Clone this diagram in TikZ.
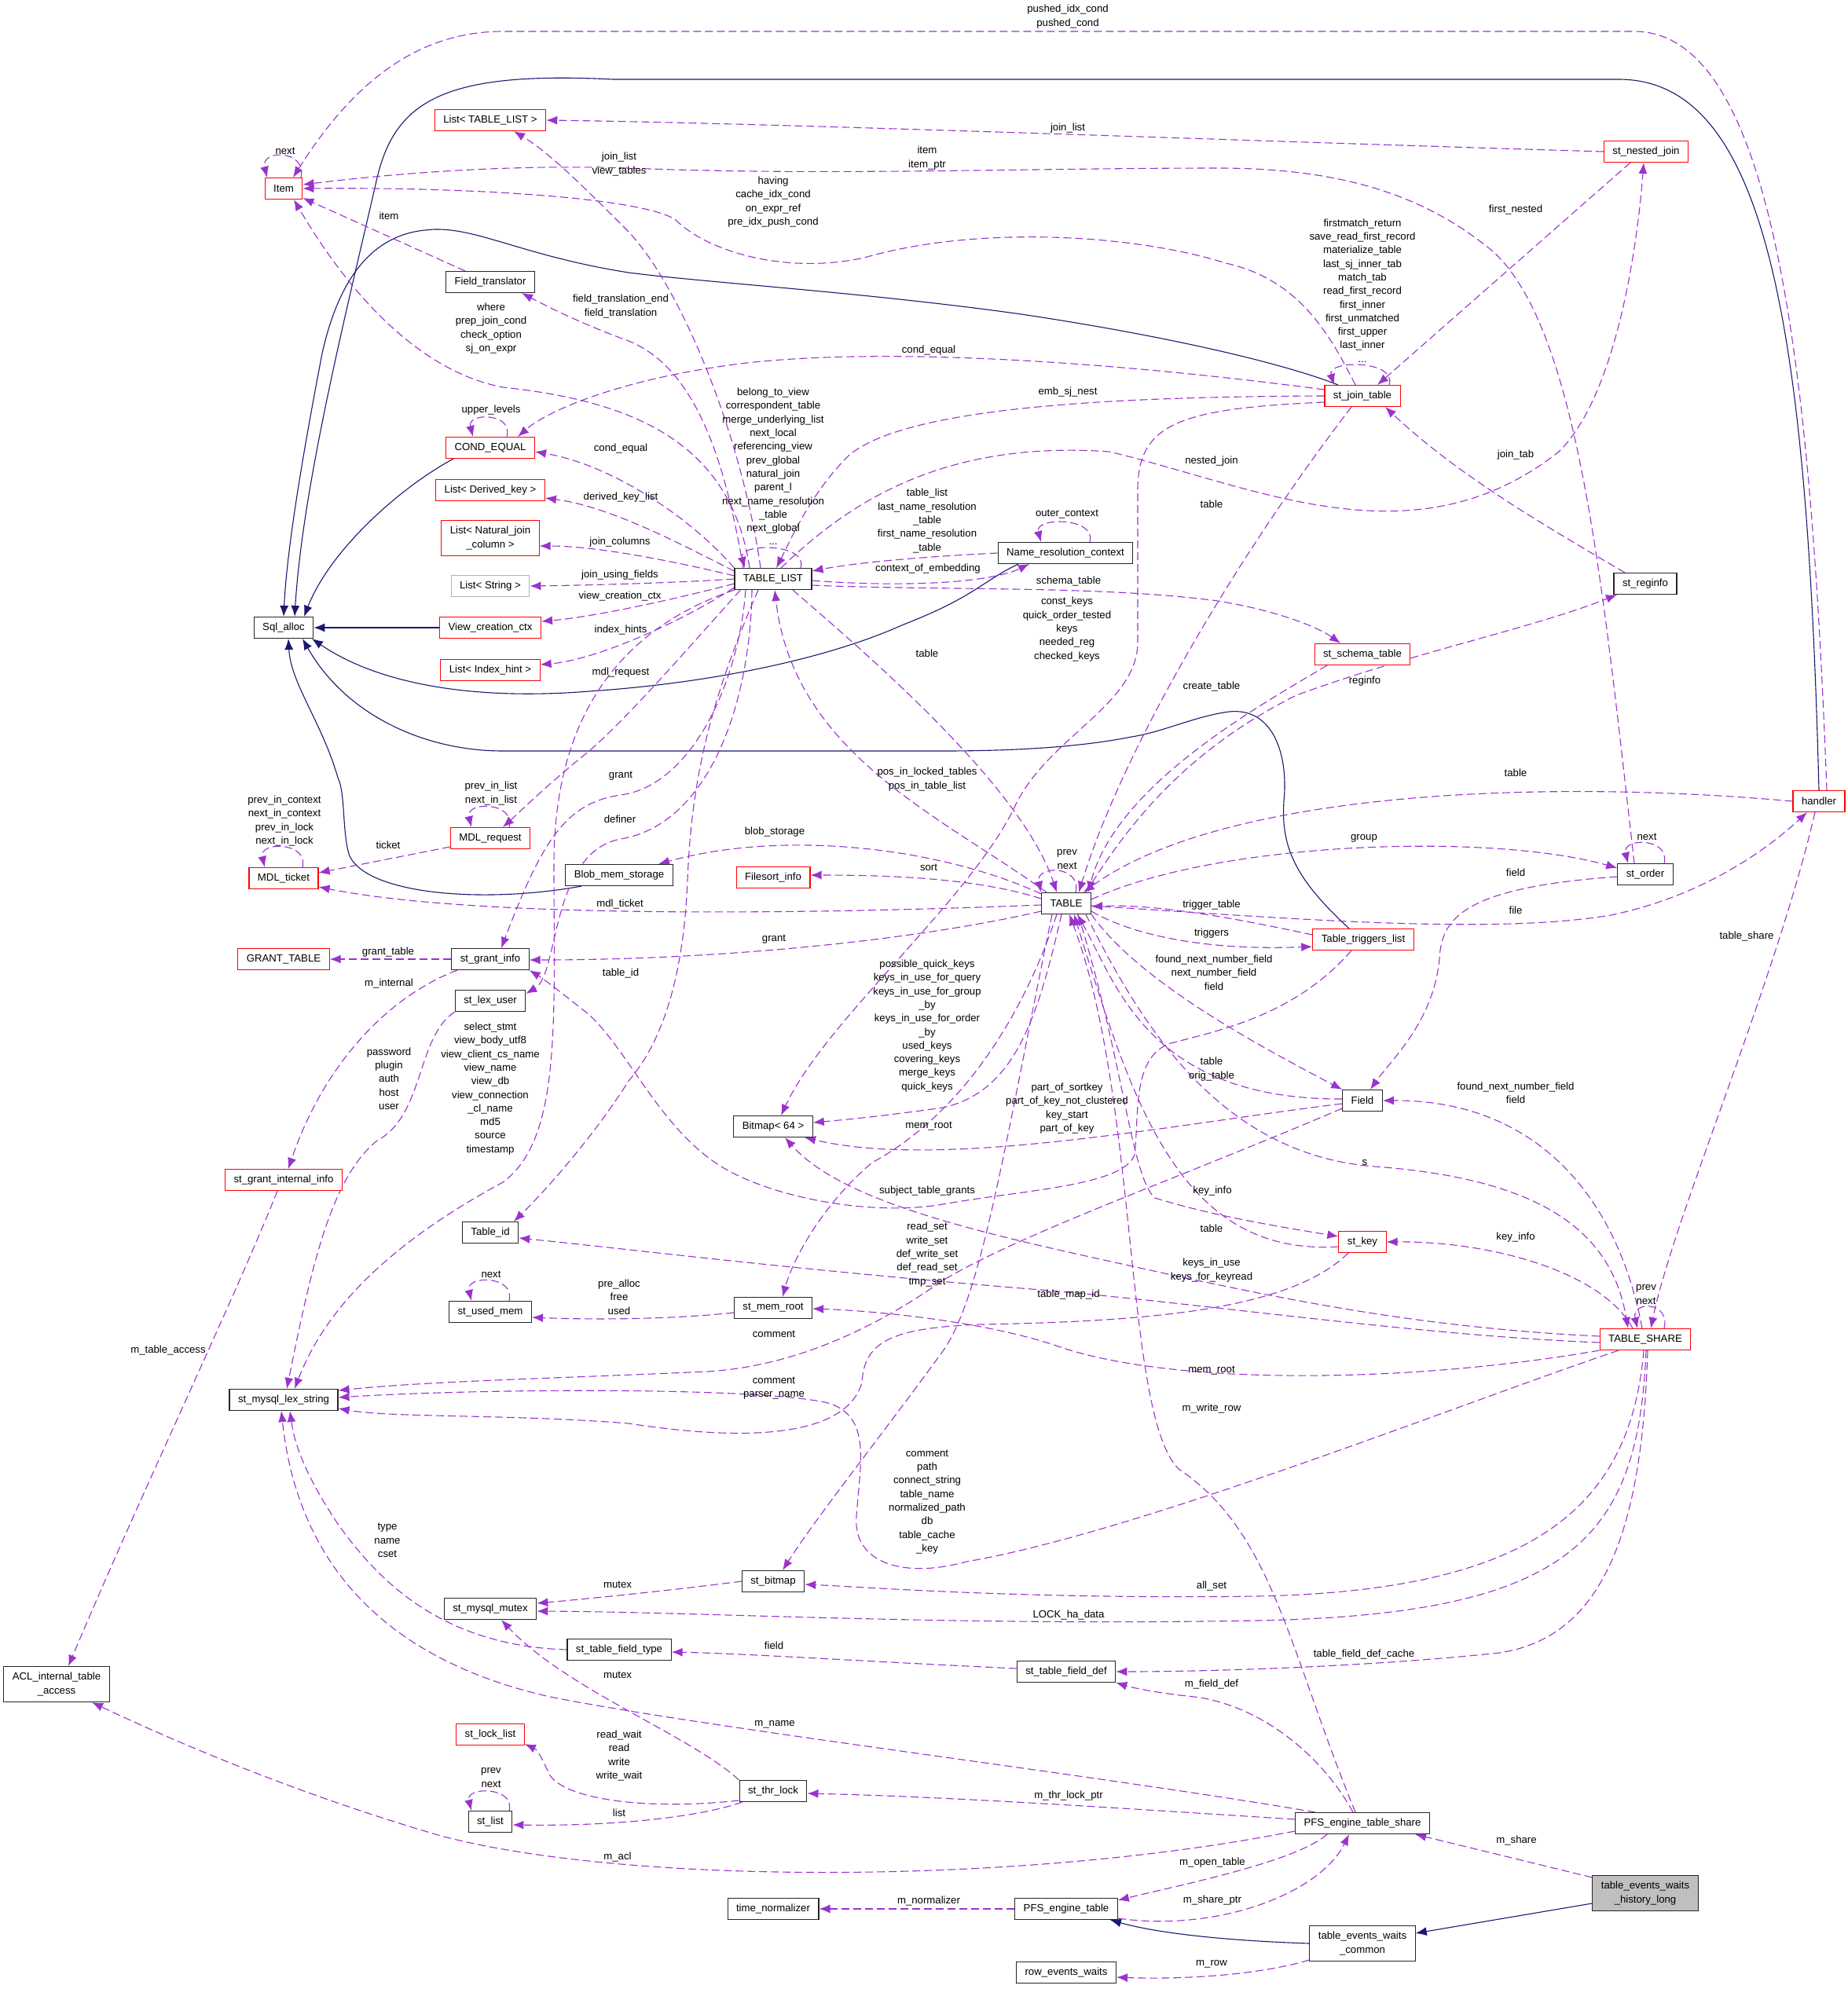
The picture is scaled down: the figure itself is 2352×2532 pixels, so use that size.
\documentclass[tikz,border=0pt]{standalone}
\usepackage{fontspec}
\setmainfont{Liberation Sans}
\usetikzlibrary{arrows.meta,calc}
\definecolor{depc}{HTML}{9A32CD}
\definecolor{inhc}{HTML}{191970}
\newcommand{\dxf}{\fontsize{13.2pt}{17.3pt}\selectfont}
\pgfdeclarelayer{bgl}
\pgfdeclarelayer{edges}
\pgfsetlayers{bgl,edges,main}
\tikzset{
 cls/.style={draw=black!85, fill=white, line width=1.1pt, inner xsep=11pt, inner ysep=3pt, minimum height=27pt, font=\dxf, align=center},
 clsr/.style={cls, draw=red},
 clsg/.style={cls, draw=black!30},
 clsf/.style={cls, fill=black!25},
 two/.style={minimum height=45pt},
 lbl/.style={font=\dxf, align=center, inner sep=0pt},
 dep/.style={draw=depc, line width=1.1pt, dash pattern=on 10pt off 5pt, -{Latex[length=14pt,width=11pt]}},
 inh/.style={draw=inhc, line width=1.1pt, -{Latex[length=14pt,width=11pt]}}
}
\begin{document}
\begin{tikzpicture}[x=1pt,y=-1pt]
\begin{pgfonlayer}{bgl}
\fill[white] (0,0) rectangle (2352,2532);
\end{pgfonlayer}
\useasboundingbox (0,0) rectangle (2352,2532);
% ---------------- nodes
\node[clsr] (Item) at (361,240) {Item};
\node[clsr] (listTL) at (624,153) {List< TABLE\_LIST >};
\node[cls] (fieldtr) at (624,359) {Field\_translator};
\node[clsr] (condeq) at (624,570) {COND\_EQUAL};
\node[clsr] (listDK) at (624,624) {List< Derived\_key >};
\node[clsr, two] (listNJ) at (624,685) {List< Natural\_join\\\_column >};
\node[clsg] (listStr) at (624,746) {List< String >};
\node[clsr] (viewctx) at (624,799) {View\_creation\_ctx};
\node[cls] (sqlalloc) at (361,799) {Sql\_alloc};
\node[clsr] (listIH) at (624,853) {List< Index\_hint >};
\node[cls] (tablelist) at (984,737) {TABLE\_LIST};
\node[cls] (nrc) at (1356,704) {Name\_resolution\_context};
\node[clsr] (nested) at (2095,193) {st\_nested\_join};
\node[clsr] (jointab) at (1734,504) {st\_join\_table};
\node[cls] (reginfo) at (2094,743) {st\_reginfo};
\node[clsr] (schema) at (1734,833) {st\_schema\_table};
\node[clsr] (mdlreq) at (624,1067) {MDL\_request};
\node[clsr] (mdlticket) at (361,1118) {MDL\_ticket};
\node[cls] (blob) at (788,1114) {Blob\_mem\_storage};
\node[clsr] (granttable) at (361,1221) {GRANT\_TABLE};
\node[cls] (grantinfo) at (624,1221) {st\_grant\_info};
\node[cls] (lexuser) at (624,1274) {st\_lex\_user};
\node[clsr] (grantint) at (361,1502) {st\_grant\_internal\_info};
\node[cls] (tableid) at (624,1569) {Table\_id};
\node[cls] (usedmem) at (624,1670) {st\_used\_mem};
\node[clsr] (filesort) at (984,1117) {Filesort\_info};
\node[cls] (table) at (1357,1150) {TABLE};
\node[cls] (bitmap64) at (984,1434) {Bitmap< 64 >};
\node[cls] (memroot) at (984,1665) {st\_mem\_root};
\node[clsr] (handler) at (2315,1020) {handler};
\node[cls] (order) at (2094,1113) {st\_order};
\node[clsr] (triggers) at (1735,1196) {Table\_triggers\_list};
\node[cls] (field) at (1734,1401) {Field};
\node[clsr] (key) at (1734,1581) {st\_key};
\node[clsr] (share) at (2094,1705) {TABLE\_SHARE};
\node[cls] (lexstr) at (361,1782) {st\_mysql\_lex\_string};
\node[cls, two] (acl) at (72,2144) {ACL\_internal\_table\\\_access};
\node[cls] (mutex) at (624,2048) {st\_mysql\_mutex};
\node[cls] (fieldtype) at (788,2100) {st\_table\_field\_type};
\node[clsr] (locklist) at (624,2208) {st\_lock\_list};
\node[cls] (stlist) at (624,2319) {st\_list};
\node[cls] (bitmap) at (984,2013) {st\_bitmap};
\node[cls] (fielddef) at (1357,2128) {st\_table\_field\_def};
\node[cls] (thrlock) at (984,2280) {st\_thr\_lock};
\node[cls] (timenorm) at (984,2430) {time\_normalizer};
\node[cls] (pfstable) at (1357,2430) {PFS\_engine\_table};
\node[cls] (rowev) at (1357,2511) {row\_events\_waits};
\node[cls] (pfsshare) at (1734,2321) {PFS\_engine\_table\_share};
\node[clsf, two] (hist) at (2094,2410) {table\_events\_waits\\\_history\_long};
\node[cls, two] (common) at (1734,2474) {table\_events\_waits\\\_common};

\begin{pgfonlayer}{edges}
% ---------------- inheritance
\draw[inh] (handler.north) .. controls (2300,420) and (2250,101) .. (2060,101) -- (780,101) .. controls (560,90) and (500,130) .. (478,235) .. controls (440,400) and (385,620) .. ($(sqlalloc.north)+(14,0)$);
\draw[inh] ($(jointab.north)+(-31,0)$) .. controls (1640,465) and (1500,430) .. (1300,400) .. controls (1100,372) and (900,360) .. (800,347) .. controls (660,325) and (600,285) .. (541,293) .. controls (470,300) and (430,360) .. (410,450) .. controls (385,580) and (365,700) .. ($(sqlalloc.north)+(0,0)$);
\draw[inh] ($(condeq.south)+(-47,0)$) .. controls (510,620) and (420,700) .. ($(sqlalloc.north)+(26,0)$);
\draw[inh] (viewctx.west) -- (sqlalloc.east);
\draw[inh] ($(blob.south)+(-48,0)$) .. controls (620,1150) and (470,1140) .. (445,1090) .. controls (435,1060) and (440,1010) .. (430,990) .. controls (410,920) and (370,870) .. ($(sqlalloc.south)+(6,0)$);
\draw[inh] ($(triggers.north)+(-18,0)$) .. controls (1650,1120) and (1630,1080) .. (1634,1020) .. controls (1640,960) and (1620,900) .. (1564,906) .. controls (1520,912) and (1480,932) .. (1440,938) .. controls (1380,950) and (1300,956) .. (1200,956) -- (640,956) .. controls (540,956) and (440,910) .. ($(sqlalloc.south)+(24,0)$);
\draw[inh] ($(nrc.south)+(-60,0)$) .. controls (1250,740) and (1240,760) .. (1150,795) .. controls (1050,840) and (900,870) .. (750,880) .. controls (600,892) and (480,870) .. ($(sqlalloc.south)+(36,0)$);
\draw[inh] ($(hist.west)+(0,13)$) -- ($(common.east)+(0,-13)$);
\draw[inh] (common.west) .. controls (1550,2470) and (1470,2460) .. ($(pfstable.south east)+(-10,0)$);

% ---------------- dependencies
% Item
\draw[dep] ($(Item.north)+(22,0)$) .. controls ($(Item.north)+(30,-36)$) and ($(Item.north)+(-30,-36)$) .. ($(Item.north)+(-21,0)$);
\draw[dep] ($(handler.north)+(10,0)$) .. controls (2305,480) and (2260,40) .. (2080,40) -- (640,40) .. controls (520,40) and (440,120) .. ($(Item.north)+(12,0)$);
\draw[dep] ($(order.north)+(-14,0)$) .. controls (2040,750) and (2010,420) .. (1900,320) .. controls (1810,245) and (1700,214) .. (1550,214) .. controls (1300,214) and (1050,224) .. (800,214) .. controls (620,208) and (460,226) .. ($(Item.east)+(0,-5)$);
\draw[dep] ($(jointab.north)+(-9,0)$) .. controls (1690,420) and (1650,355) .. (1560,335) .. controls (1450,300) and (1250,285) .. (1100,328) .. controls (1000,350) and (900,320) .. (860,280) .. controls (820,252) and (600,238) .. ($(Item.east)+(0,0)$);
\draw[dep] ($(tablelist.north)+(-30,0)$) .. controls (930,560) and (800,510) .. (640,493) .. controls (520,470) and (430,350) .. ($(Item.south)+(13,0)$);
\draw[dep] ($(fieldtr.north)+(-32,0)$) -- ($(Item.east)+(0,12)$);
% List<TABLE_LIST>
\draw[dep] (nested.west) .. controls (1600,180) and (1000,157) .. (listTL.east);
\draw[dep] ($(tablelist.north)+(-16,0)$) .. controls (945,560) and (870,370) .. (800,295) .. controls (740,235) and (700,195) .. ($(listTL.south)+(30,0)$);
\draw[dep] ($(tablelist.north)+(-38,0)$) .. controls (925,600) and (890,470) .. (800,434) .. controls (740,412) and (700,392) .. ($(fieldtr.south)+(40,0)$);
% COND_EQUAL
\draw[dep] ($(condeq.north)+(21,0)$) .. controls ($(condeq.north)+(30,-31)$) and ($(condeq.north)+(-30,-31)$) .. ($(condeq.north)+(-22,0)$);
\draw[dep] (tablelist.north west) .. controls (880,660) and (780,592) .. ($(condeq.east)+(0,5)$);
\draw[dep] ($(jointab.west)+(0,-8)$) .. controls (1450,465) and (1150,440) .. (950,462) .. controls (800,480) and (700,520) .. ($(condeq.north)+(35,0)$);
% TABLE_LIST left side
\draw[dep] ($(tablelist.north west)+(0,4)$) .. controls (880,700) and (780,645) .. ($(listDK.east)+(0,10)$);
\draw[dep] ($(tablelist.west)+(0,-4)$) .. controls (860,715) and (760,695) .. ($(listNJ.east)+(0,10)$);
\draw[dep] (tablelist.west) .. controls (860,742) and (750,745) .. (listStr.east);
\draw[dep] ($(tablelist.west)+(0,6)$) .. controls (870,760) and (760,785) .. ($(viewctx.east)+(0,-8)$);
\draw[dep] ($(tablelist.south west)+(0,-3)$) .. controls (870,790) and (760,840) .. ($(listIH.east)+(0,-7)$);
\draw[dep] ($(tablelist.south west)+(8,0)$) .. controls (880,820) and (790,925) .. (740,964) .. controls (690,1005) and (660,1035) .. ($(mdlreq.north)+(16,0)$);
\draw[dep] ($(tablelist.south)+(-35,0)$) .. controls (940,870) and (880,1000) .. (790,1012) .. controls (720,1022) and (690,1070) .. ($(grantinfo.north)+(14,0)$);
\draw[dep] ($(tablelist.south)+(-27,0)$) .. controls (955,900) and (900,1050) .. (790,1068) .. controls (700,1085) and (712,1240) .. ($(lexuser.north east)+(0,5)$);
\draw[dep] ($(tablelist.south)+(-19,0)$) .. controls (900,900) and (880,1000) .. (875,1120) .. controls (870,1250) and (840,1330) .. (800,1376) .. controls (760,1440) and (700,1510) .. ($(tableid.north)+(30,0)$);
\draw[dep] (tablelist.south west) .. controls (820,790) and (705,880) .. (705,1100) .. controls (705,1300) and (715,1450) .. (640,1505) .. controls (520,1570) and (420,1650) .. ($(lexstr.north)+(14,0)$);
% TABLE_LIST self / NRC
\draw[dep] ($(tablelist.north)+(35,0)$) .. controls ($(tablelist.north)+(45,-32)$) and ($(tablelist.north)+(-45,-32)$) .. ($(tablelist.north)+(-36,0)$);
\draw[dep] (nrc.west) .. controls (1150,710) and (1080,718) .. ($(tablelist.east)+(0,-10)$);
\draw[dep] ($(tablelist.east)+(0,2)$) .. controls (1150,748) and (1260,742) .. ($(nrc.south)+(-46,0)$);
\draw[dep] ($(nrc.north)+(31,0)$) .. controls ($(nrc.north)+(40,-32)$) and ($(nrc.north)+(-40,-32)$) .. ($(nrc.north)+(-31,0)$);
\draw[dep] ($(tablelist.east)+(0,8)$) .. controls (1200,752) and (1400,745) .. (1550,765) .. controls (1630,778) and (1680,800) .. ($(schema.north)+(-28,0)$);
% st_join_table / st_nested_join
\draw[dep] ($(nested.south)+(-20,0)$) -- ($(jointab.north)+(19,0)$);
\draw[dep] ($(tablelist.north)+(10,0)$) .. controls (1080,640) and (1200,560) .. (1412,575) .. controls (1600,620) and (1800,720) .. (1984,575) .. controls (2060,500) and (2085,300) .. ($(nested.south)+(-3,0)$);
\draw[dep] (jointab.west) .. controls (1400,505) and (1150,520) .. (1080,580) .. controls (1030,630) and (1005,690) .. ($(tablelist.north)+(4,0)$);
\draw[dep] ($(jointab.north)+(34,0)$) .. controls ($(jointab.north)+(44,-32)$) and ($(jointab.north)+(-46,-32)$) .. ($(jointab.north)+(-36,0)$);
\draw[dep] ($(reginfo.north)+(-26,0)$) .. controls (1950,660) and (1850,600) .. ($(jointab.south)+(29,0)$);
\draw[dep] ($(table.north)+(25,0)$) .. controls (1430,1060) and (1500,960) .. (1650,885) .. controls (1800,830) and (1950,800) .. ($(reginfo.south)+(-36,0)$);
\draw[dep] ($(jointab.south)+(-14,0)$) .. controls (1580,700) and (1430,950) .. ($(table.north)+(16,0)$);
\draw[dep] ($(jointab.west)+(0,8)$) .. controls (1500,520) and (1450,540) .. (1448,620) -- (1448,820) .. controls (1445,900) and (1330,940) .. (1290,1030) .. controls (1230,1150) and (1050,1300) .. ($(bitmap64.north)+(10,0)$);
% TABLE top
\draw[dep] ($(tablelist.south)+(25,0)$) .. controls (1100,830) and (1300,1000) .. ($(table.north)+(-12,0)$);
\draw[dep] ($(table.north)+(-25,0)$) .. controls (1200,1040) and (1010,960) .. ($(tablelist.south)+(2,0)$);
\draw[dep] ($(table.north)+(12,0)$) .. controls ($(table.north)+(20,-35)$) and ($(table.north)+(-40,-35)$) .. ($(table.north)+(-32,0)$);
\draw[dep] ($(schema.south)+(-45,0)$) .. controls (1600,900) and (1420,1000) .. ($(table.north)+(28,0)$);
\draw[dep] (handler.west) .. controls (1950,990) and (1550,1010) .. ($(table.north)+(22,0)$);
% TABLE left
\draw[dep] ($(table.west)+(0,-6)$) .. controls (1250,1120) and (1150,1114) .. ($(filesort.east)+(0,-3)$);
\draw[dep] ($(table.north west)+(0,2)$) .. controls (1200,1080) and (1000,1055) .. ($(blob.north)+(50,0)$);
\draw[dep] ($(table.west)+(0,2)$) .. controls (1000,1165) and (600,1168) .. ($(mdlticket.east)+(0,11)$);
\draw[dep] ($(table.west)+(0,10)$) .. controls (1150,1200) and (900,1222) .. ($(grantinfo.east)+(0,1)$);
% MDL / grant
\draw[dep] ($(mdlreq.west)+(0,11)$) -- ($(mdlticket.east)+(0,-7)$);
\draw[dep] ($(mdlreq.north)+(24,0)$) .. controls ($(mdlreq.north)+(32,-33)$) and ($(mdlreq.north)+(-32,-33)$) .. ($(mdlreq.north)+(-24,0)$);
\draw[dep] ($(mdlticket.north)+(24,0)$) .. controls ($(mdlticket.north)+(32,-33)$) and ($(mdlticket.north)+(-32,-33)$) .. ($(mdlticket.north)+(-24,0)$);
\draw[dep] (grantinfo.west) -- (granttable.east);
\draw[dep] ($(grantinfo.south)+(-42,0)$) .. controls (490,1270) and (410,1360) .. ($(grantint.north)+(6,0)$);
\draw[dep] ($(grantint.south)+(-8,0)$) .. controls (300,1650) and (180,1900) .. ($(acl.north)+(15,0)$);
\draw[dep] (lexuser.south west) .. controls (530,1320) and (540,1420) .. (480,1452) .. controls (420,1500) and (395,1620) .. ($(lexstr.north)+(4,0)$);
% mem_root
\draw[dep] ($(memroot.west)+(0,6)$) .. controls (850,1680) and (750,1680) .. ($(usedmem.east)+(0,7)$);
\draw[dep] ($(usedmem.north)+(24,0)$) .. controls ($(usedmem.north)+(32,-33)$) and ($(usedmem.north)+(-32,-33)$) .. ($(usedmem.north)+(-24,0)$);
\draw[dep] ($(table.south)+(-12,0)$) .. controls (1300,1300) and (1220,1420) .. (1110,1480) .. controls (1050,1530) and (1010,1600) .. ($(memroot.north)+(12,0)$);
% Bitmap<64>
\draw[dep] ($(table.south)+(-6,0)$) .. controls (1320,1300) and (1290,1390) .. (1200,1410) .. controls (1130,1420) and (1080,1425) .. ($(bitmap64.east)+(0,-5)$);
\draw[dep] ($(field.west)+(0,4)$) .. controls (1500,1430) and (1200,1490) .. ($(bitmap64.south)+(40,0)$);
\draw[dep] ($(share.west)+(0,-4)$) .. controls (1800,1690) and (1620,1650) .. (1500,1625) .. controls (1300,1580) and (1080,1540) .. ($(bitmap64.south)+(15,0)$);
% TABLE_SHARE top
\draw[dep] ($(table.south)+(25,0)$) .. controls (1450,1300) and (1550,1470) .. (1750,1485) .. controls (1950,1500) and (2050,1560) .. ($(share.north)+(-22,0)$);
\draw[dep] ($(share.north)+(24,0)$) .. controls ($(share.north)+(32,-35)$) and ($(share.north)+(-18,-35)$) .. ($(share.north)+(-10,0)$);
\draw[dep] ($(handler.south)+(-5,0)$) .. controls (2260,1250) and (2130,1550) .. ($(share.north)+(7,0)$);
\draw[dep] ($(share.north)+(-4,0)$) .. controls (2060,1530) and (1960,1400) .. (field.east);
\draw[dep] ($(share.north)+(-16,0)$) .. controls (2040,1620) and (1900,1580) .. (key.east);
% st_key / Field / TABLE
\draw[dep] ($(table.south)+(15,0)$) .. controls (1430,1350) and (1440,1500) .. (1470,1525) .. controls (1550,1550) and (1650,1565) .. ($(key.west)+(0,-7)$);
\draw[dep] ($(key.west)+(0,6)$) .. controls (1500,1600) and (1440,1400) .. ($(table.south)+(10,0)$);
\draw[dep] ($(field.west)+(0,-2)$) .. controls (1460,1400) and (1420,1250) .. ($(table.south)+(14,0)$);
\draw[dep] (table.south east) .. controls (1450,1250) and (1600,1330) .. (field.north west);
\draw[dep] ($(order.west)+(0,3)$) .. controls (1860,1130) and (1835,1170) .. (1832,1220) .. controls (1825,1300) and (1770,1350) .. ($(field.north)+(10,0)$);
\draw[dep] ($(table.east)+(0,-5)$) .. controls (1550,1070) and (1900,1060) .. ($(order.west)+(0,-8)$);
\draw[dep] ($(order.north)+(24,0)$) .. controls ($(order.north)+(32,-33)$) and ($(order.north)+(-30,-33)$) .. ($(order.north)+(-22,0)$);
\draw[dep] ($(table.east)+(0,3)$) .. controls (1650,1170) and (1900,1190) .. (2050,1165) .. controls (2170,1140) and (2250,1080) .. ($(handler.south)+(-15,0)$);
\draw[dep] ($(triggers.west)+(0,-6)$) .. controls (1600,1175) and (1480,1150) .. ($(table.east)+(0,4)$);
\draw[dep] ($(table.south east)+(0,-4)$) .. controls (1450,1195) and (1550,1210) .. ($(triggers.west)+(0,9)$);
\draw[dep] ($(triggers.south)+(-15,0)$) .. controls (1650,1290) and (1560,1310) .. (1490,1328) .. controls (1440,1345) and (1450,1420) .. (1444,1470) .. controls (1430,1510) and (1300,1515) .. (1200,1533) .. controls (1100,1550) and (960,1520) .. (902,1474) .. controls (830,1420) and (790,1320) .. (740,1284) .. controls (710,1260) and (690,1245) .. (grantinfo.south east);
% st_bitmap, mutex
\draw[dep] ($(table.south)+(-18,0)$) .. controls (1280,1450) and (1250,1650) .. (1200,1720) .. controls (1120,1830) and (1040,1930) .. ($(bitmap.north)+(12,0)$);
\draw[dep] ($(share.south)+(-2,0)$) .. controls (2075,1920) and (1950,2025) .. (1600,2032) .. controls (1300,2036) and (1100,2020) .. ($(bitmap.east)+(0,4)$);
\draw[dep] ($(share.south)+(1,0)$) .. controls (2085,1960) and (2000,2055) .. (1600,2063) .. controls (1200,2070) and (900,2052) .. ($(mutex.east)+(0,3)$);
\draw[dep] (bitmap.west) .. controls (850,2025) and (750,2035) .. ($(mutex.east)+(0,-7)$);
\draw[dep] (thrlock.north west) .. controls (880,2210) and (720,2150) .. ($(mutex.south)+(14,0)$);
% field def
\draw[dep] ($(share.south)+(3,0)$) .. controls (2090,1950) and (2040,2090) .. (1900,2105) .. controls (1700,2125) and (1500,2128) .. (fielddef.east);
\draw[dep] ($(fielddef.west)+(0,-4)$) .. controls (1100,2115) and (950,2105) .. ($(fieldtype.east)+(0,3)$);
\draw[dep] (fieldtype.west) .. controls (560,2095) and (480,2010) .. (430,1940) .. controls (390,1880) and (375,1840) .. ($(lexstr.south)+(8,0)$);
% lex_string others
\draw[dep] ($(pfsshare.north west)+(26,0)$) .. controls (1400,2260) and (900,2200) .. (700,2160) .. controls (500,2115) and (380,2000) .. ($(lexstr.south)+(-3,0)$);
\draw[dep] ($(key.south)+(-18,0)$) .. controls (1640,1670) and (1450,1682) .. (1250,1686) .. controls (1130,1690) and (1100,1710) .. (1097,1760) .. controls (1080,1820) and (980,1840) .. (800,1812) .. controls (650,1800) and (500,1805) .. ($(lexstr.east)+(0,11)$);
\draw[dep] ($(share.south)+(-34,0)$) .. controls (1850,1790) and (1450,1950) .. (1230,1988) .. controls (1150,2010) and (1085,1990) .. (1090,1930) .. controls (1095,1860) and (1110,1800) .. (1050,1785) .. controls (950,1765) and (600,1768) .. ($(lexstr.east)+(0,-3)$);
\draw[dep] ($(field.west)+(0,10)$) .. controls (1500,1500) and (1300,1570) .. (1200,1630) .. controls (1100,1700) and (1000,1740) .. (900,1746) .. controls (700,1755) and (550,1758) .. ($(lexstr.east)+(0,-12)$);
% table_id, mem_root from share
\draw[dep] ($(share.west)+(0,4)$) .. controls (1800,1700) and (1500,1655) .. (1300,1640) .. controls (1000,1615) and (800,1590) .. ($(tableid.east)+(0,7)$);
\draw[dep] (share.south west) .. controls (1800,1760) and (1500,1765) .. (1350,1715) .. controls (1250,1680) and (1100,1668) .. ($(memroot.east)+(0,1)$);
% PFS
\draw[dep] ($(pfsshare.north)+(-9,0)$) .. controls (1640,2100) and (1620,1950) .. (1500,1870) .. controls (1430,1800) and (1450,1400) .. ($(table.south)+(4,0)$);
\draw[dep] ($(pfsshare.west)+(0,-5)$) .. controls (1400,2300) and (1200,2287) .. ($(thrlock.east)+(0,3)$);
\draw[dep] ($(thrlock.west)+(0,12)$) .. controls (820,2305) and (720,2290) .. (700,2260) .. controls (690,2240) and (685,2228) .. ($(locklist.east)+(0,12)$);
\draw[dep] ($(thrlock.south west)+(4,0)$) .. controls (900,2310) and (800,2325) .. ($(stlist.east)+(0,4)$);
\draw[dep] ($(stlist.north)+(24,0)$) .. controls ($(stlist.north)+(32,-31)$) and ($(stlist.north)+(-32,-31)$) .. ($(stlist.north)+(-24,0)$);
\draw[dep] ($(pfsshare.west)+(0,10)$) .. controls (1300,2400) and (800,2400) .. (561,2337) .. controls (400,2290) and (250,2230) .. ($(acl.south)+(45,0)$);
\draw[dep] (pfstable.west) -- (timenorm.east);
\draw[dep] ($(pfsshare.south)+(-45,0)$) .. controls (1650,2370) and (1500,2400) .. ($(pfstable.east)+(0,-11)$);
\draw[dep] ($(pfstable.east)+(0,12)$) .. controls (1550,2460) and (1680,2410) .. ($(pfsshare.south)+(-17,0)$);
\draw[dep] ($(hist.north west)+(0,3)$) -- ($(pfsshare.south east)+(-19,0)$);
\draw[dep] ($(common.south west)+(0,-2)$) .. controls (1600,2515) and (1500,2520) .. ($(rowev.east)+(0,6)$);
\draw[dep] ($(pfsshare.north)+(-12,0)$) .. controls (1680,2230) and (1600,2170) .. (1520,2160) .. controls (1470,2155) and (1440,2148) .. (fielddef.south east);
\end{pgfonlayer}

% ---------------- labels
\node[lbl] (l1) at (363,192) {next};
\node[lbl] (l2) at (1359,21) {pushed\_idx\_cond\\pushed\_cond};
\node[lbl] (l3) at (1180,201) {item\\item\_ptr};
\node[lbl] (l4) at (984,257) {having\\cache\_idx\_cond\\on\_expr\_ref\\pre\_idx\_push\_cond};
\node[lbl] (l5) at (625,418) {where\\prep\_join\_cond\\check\_option\\sj\_on\_expr};
\node[lbl] (l6) at (495,275) {item};
\node[lbl] (l7) at (1359,163) {join\_list};
\node[lbl] (l8) at (788,209) {join\_list\\view\_tables};
\node[lbl] (l9) at (790,390) {field\_translation\_end\\field\_translation};
\node[lbl] (l10) at (625,522) {upper\_levels};
\node[lbl] (l11) at (790,571) {cond\_equal};
\node[lbl] (l12) at (1182,446) {cond\_equal};
\node[lbl] (l13) at (790,633) {derived\_key\_list};
\node[lbl] (l14) at (789,690) {join\_columns};
\node[lbl] (l15) at (789,732) {join\_using\_fields};
\node[lbl] (l16) at (789,759) {view\_creation\_ctx};
\node[lbl] (l17) at (790,802) {index\_hints};
\node[lbl] (l18) at (790,856) {mdl\_request};
\node[lbl] (l19) at (790,988) {grant};
\node[lbl] (l20) at (789,1043) {definer};
\node[lbl] (l21) at (790,1239) {table\_id};
\node[lbl] (l22) at (624,1386) {select\_stmt\\view\_body\_utf8\\view\_client\_cs\_name\\view\_name\\view\_db\\view\_connection\\\_cl\_name\\md5\\source\\timestamp};
\node[lbl] (l23) at (984,594) {belong\_to\_view\\correspondent\_table\\merge\_underlying\_list\\next\_local\\referencing\_view\\prev\_global\\natural\_join\\parent\_l\\next\_name\_resolution\\\_table\\next\_global\\...};
\node[lbl] (l24) at (1180,663) {table\_list\\last\_name\_resolution\\\_table\\first\_name\_resolution\\\_table};
\node[lbl] (l25) at (1181,724) {context\_of\_embedding};
\node[lbl] (l26) at (1358,655) {outer\_context};
\node[lbl] (l27) at (1360,740) {schema\_table};
\node[lbl] (l28) at (1929,267) {first\_nested};
\node[lbl] (l29) at (1542,587) {nested\_join};
\node[lbl] (l30) at (1359,499) {emb\_sj\_nest};
\node[lbl] (l31) at (1734,370) {firstmatch\_return\\save\_read\_first\_record\\materialize\_table\\last\_sj\_inner\_tab\\match\_tab\\read\_first\_record\\first\_inner\\first\_unmatched\\first\_upper\\last\_inner\\...};
\node[lbl] (l32) at (1929,579) {join\_tab};
\node[lbl] (l33) at (1737,867) {reginfo};
\node[lbl] (l34) at (1542,642) {table};
\node[lbl] (l35) at (1358,801) {const\_keys\\quick\_order\_tested\\keys\\needed\_reg\\checked\_keys};
\node[lbl] (l36) at (1180,832) {table};
\node[lbl] (l37) at (1180,992) {pos\_in\_locked\_tables\\pos\_in\_table\_list};
\node[lbl] (l38) at (1358,1094) {prev\\next};
\node[lbl] (l39) at (1542,874) {create\_table};
\node[lbl] (l40) at (1929,984) {table};
\node[lbl] (l41) at (1182,1104) {sort};
\node[lbl] (l42) at (986,1059) {blob\_storage};
\node[lbl] (l43) at (789,1151) {mdl\_ticket};
\node[lbl] (l44) at (985,1196) {grant};
\node[lbl] (l45) at (494,1076) {ticket};
\node[lbl] (l46) at (625,1010) {prev\_in\_list\\next\_in\_list};
\node[lbl] (l47) at (362,1045) {prev\_in\_context\\next\_in\_context\\prev\_in\_lock\\next\_in\_lock};
\node[lbl] (l48) at (494,1212) {grant\_table};
\node[lbl] (l49) at (495,1252) {m\_internal};
\node[lbl] (l50) at (214,1719) {m\_table\_access};
\node[lbl] (l51) at (495,1373) {password\\plugin\\auth\\host\\user};
\node[lbl] (l52) at (788,1651) {pre\_alloc\\free\\used};
\node[lbl] (l53) at (625,1622) {next};
\node[lbl] (l54) at (1182,1434) {mem\_root};
\node[lbl] (l55) at (1180,1306) {possible\_quick\_keys\\keys\_in\_use\_for\_query\\keys\_in\_use\_for\_group\\\_by\\keys\_in\_use\_for\_order\\\_by\\used\_keys\\covering\_keys\\merge\_keys\\quick\_keys};
\node[lbl] (l56) at (1358,1411) {part\_of\_sortkey\\part\_of\_key\_not\_clustered\\key\_start\\part\_of\_key};
\node[lbl] (l57) at (1542,1617) {keys\_in\_use\\keys\_for\_keyread};
\node[lbl] (l58) at (1737,1480) {s};
\node[lbl] (l59) at (2095,1648) {prev\\next};
\node[lbl] (l60) at (2223,1192) {table\_share};
\node[lbl] (l61) at (1929,1391) {found\_next\_number\_field\\field};
\node[lbl] (l62) at (1929,1575) {key\_info};
\node[lbl] (l63) at (1543,1516) {key\_info};
\node[lbl] (l64) at (1542,1564) {table};
\node[lbl] (l65) at (1542,1361) {table\\orig\_table};
\node[lbl] (l66) at (1545,1238) {found\_next\_number\_field\\next\_number\_field\\field};
\node[lbl] (l67) at (1929,1111) {field};
\node[lbl] (l68) at (1736,1067) {group};
\node[lbl] (l69) at (2096,1065) {next};
\node[lbl] (l70) at (1929,1159) {file};
\node[lbl] (l71) at (1542,1152) {trigger\_table};
\node[lbl] (l72) at (1542,1188) {triggers};
\node[lbl] (l73) at (1180,1516) {subject\_table\_grants};
\node[lbl] (l74) at (1180,1597) {read\_set\\write\_set\\def\_write\_set\\def\_read\_set\\tmp\_set};
\node[lbl] (l75) at (1542,2019) {all\_set};
\node[lbl] (l76) at (1360,2056) {LOCK\_ha\_data};
\node[lbl] (l77) at (786,2017) {mutex};
\node[lbl] (l78) at (786,2132) {mutex};
\node[lbl] (l79) at (1736,2106) {table\_field\_def\_cache};
\node[lbl] (l80) at (985,2095) {field};
\node[lbl] (l81) at (493,1961) {type\\name\\cset};
\node[lbl] (l82) at (986,2195) {m\_name};
\node[lbl] (l83) at (985,1767) {comment\\parser\_name};
\node[lbl] (l84) at (1180,1912) {comment\\path\\connect\_string\\table\_name\\normalized\_path\\db\\table\_cache\\\_key};
\node[lbl] (l85) at (985,1698) {comment};
\node[lbl] (l86) at (1360,1648) {table\_map\_id};
\node[lbl] (l87) at (1542,1745) {mem\_root};
\node[lbl] (l88) at (1542,1793) {m\_write\_row};
\node[lbl] (l89) at (1360,2286) {m\_thr\_lock\_ptr};
\node[lbl] (l90) at (788,2235) {read\_wait\\read\\write\\write\_wait};
\node[lbl] (l91) at (788,2308) {list};
\node[lbl] (l92) at (625,2263) {prev\\next};
\node[lbl] (l93) at (786,2364) {m\_acl};
\node[lbl] (l94) at (1182,2420) {m\_normalizer};
\node[lbl] (l95) at (1543,2371) {m\_open\_table};
\node[lbl] (l96) at (1543,2419) {m\_share\_ptr};
\node[lbl] (l97) at (1930,2343) {m\_share};
\node[lbl] (l98) at (1542,2500) {m\_row};
\node[lbl] (l99) at (1542,2144) {m\_field\_def};
\end{tikzpicture}
\end{document}
